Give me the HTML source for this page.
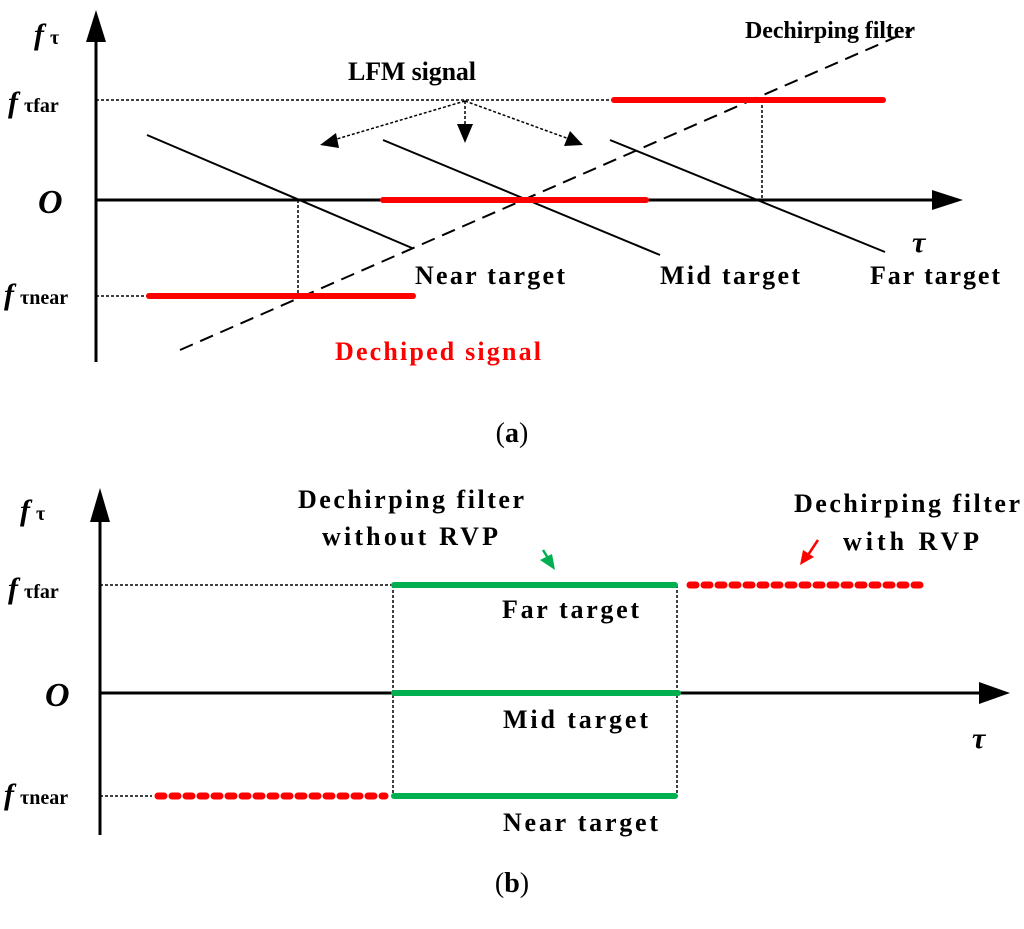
<!DOCTYPE html>
<html><head><meta charset="utf-8"><style>body{margin:0;background:#fff}svg{display:block}</style></head><body>
<svg width="1024" height="929" viewBox="0 0 1024 929" xmlns="http://www.w3.org/2000/svg" font-family="Liberation Serif, serif" font-weight="bold">
<defs>
<marker id="ah" markerWidth="10" markerHeight="10" refX="9" refY="5" orient="auto" markerUnits="userSpaceOnUse"><path d="M0,0 L14,5 L0,10 L3,5Z" fill="#000"/></marker>
</defs>
<!-- (a) -->
<line x1="96" y1="362" x2="96" y2="35" stroke="#000" stroke-width="3"/>
<polygon points="96,10 86,42 106,42" fill="#000"/>
<line x1="96" y1="200" x2="938" y2="200" stroke="#000" stroke-width="3"/>
<polygon points="963,200 932,190 932,210" fill="#000"/>
<text x="34" y="44" font-size="30" font-style="italic">f</text><text x="50" y="44" font-size="20">τ</text>
<text x="8" y="112" font-size="30" font-style="italic">f</text><text x="24" y="112" font-size="20">τfar</text>
<text x="38" y="213" font-size="34" font-style="italic">O</text>
<text x="4" y="304" font-size="30" font-style="italic">f</text><text x="20" y="304" font-size="20">τnear</text>
<text x="912" y="252" font-size="30" font-style="italic">τ</text>
<line x1="96" y1="100" x2="612" y2="100" stroke="#000" stroke-width="1.5" stroke-dasharray="3,2"/>
<line x1="96" y1="296" x2="148" y2="296" stroke="#000" stroke-width="1.5" stroke-dasharray="3,2"/>
<line x1="298" y1="200" x2="298" y2="296" stroke="#000" stroke-width="1.5" stroke-dasharray="3,2"/>
<line x1="762" y1="100" x2="762" y2="200" stroke="#000" stroke-width="1.5" stroke-dasharray="3,2"/>
<line x1="180" y1="350" x2="912" y2="30" stroke="#000" stroke-width="2" stroke-dasharray="14,8"/>
<line x1="147" y1="135" x2="412" y2="248" stroke="#000" stroke-width="2"/>
<line x1="383" y1="140" x2="660" y2="255" stroke="#000" stroke-width="2"/>
<line x1="610" y1="140" x2="885" y2="252" stroke="#000" stroke-width="2"/>
<g stroke="#ff0000" stroke-width="6" stroke-linecap="round">
<line x1="614" y1="100" x2="883" y2="100"/>
<line x1="383" y1="200" x2="646" y2="200"/>
<line x1="149" y1="296" x2="413" y2="296"/>
</g>
<g stroke="#000" stroke-width="1.5" stroke-dasharray="3,2" fill="none">
<line x1="465" y1="101" x2="330" y2="141"/>
<line x1="465" y1="101" x2="465" y2="128"/>
<line x1="465" y1="101" x2="572" y2="140"/>
</g>
<polygon points="320,145 336,133 339,148" fill="#000"/>
<polygon points="465,143 457,124 473,124" fill="#000"/>
<polygon points="583,145 564,146 570,131" fill="#000"/>
<text x="348" y="80" font-size="26" textLength="128">LFM signal</text>
<text x="745" y="38" font-size="24" textLength="170">Dechirping filter</text>
<text x="415" y="284" font-size="26" textLength="150">Near target</text>
<text x="660" y="284" font-size="26" textLength="140">Mid target</text>
<text x="870" y="284" font-size="26" textLength="130">Far target</text>
<text x="335" y="360" font-size="26" fill="#ff0000" textLength="206">Dechiped signal</text>
<text x="512" y="442" font-size="28" font-weight="normal" text-anchor="middle">(<tspan font-weight="bold">a</tspan>)</text>
<!-- (b) -->
<line x1="100" y1="835" x2="100" y2="515" stroke="#000" stroke-width="3"/>
<polygon points="100,488 90,522 110,522" fill="#000"/>
<line x1="100" y1="693" x2="985" y2="693" stroke="#000" stroke-width="3"/>
<polygon points="1010,693 979,682 979,704" fill="#000"/>
<text x="20" y="520" font-size="30" font-style="italic">f</text><text x="36" y="520" font-size="20">τ</text>
<text x="8" y="598" font-size="30" font-style="italic">f</text><text x="24" y="598" font-size="20">τfar</text>
<text x="45" y="706" font-size="34" font-style="italic">O</text>
<text x="4" y="804" font-size="30" font-style="italic">f</text><text x="20" y="804" font-size="20">τnear</text>
<text x="972" y="748" font-size="30" font-style="italic">τ</text>
<g stroke="#000" stroke-width="1.5" stroke-dasharray="3,2">
<line x1="100" y1="585" x2="392" y2="585"/>
<line x1="100" y1="796" x2="152" y2="796"/>
<line x1="393" y1="585" x2="393" y2="796"/>
<line x1="677" y1="585" x2="677" y2="796"/>
</g>
<g stroke="#00b050" stroke-width="6" stroke-linecap="round">
<line x1="394" y1="585" x2="675" y2="585"/>
<line x1="394" y1="693" x2="678" y2="693"/>
<line x1="394" y1="796" x2="675" y2="796"/>
</g>
<g stroke="#ff0000" stroke-width="7" stroke-linecap="round" stroke-dasharray="6,8">
<line x1="690" y1="585" x2="928" y2="585"/>
<line x1="158" y1="796" x2="385" y2="796"/>
</g>
<path d="M543,550 L551,563" stroke="#00b050" stroke-width="2.5"/>
<polygon points="555,570 540,560 552,554" fill="#00b050"/>
<path d="M818,540 L808,555" stroke="#ff0000" stroke-width="2.5"/>
<polygon points="800,565 803,550 814,557" fill="#ff0000"/>
<text x="298" y="508" font-size="26" textLength="226">Dechirping filter</text>
<text x="322" y="545" font-size="26" textLength="176">without RVP</text>
<text x="794" y="512" font-size="26" textLength="226">Dechirping filter</text>
<text x="843" y="550" font-size="26" textLength="136">with RVP</text>
<text x="502" y="618" font-size="26" textLength="137">Far target</text>
<text x="503" y="728" font-size="26" textLength="145">Mid target</text>
<text x="503" y="831" font-size="26" textLength="155">Near target</text>
<text x="512" y="892" font-size="28" font-weight="normal" text-anchor="middle">(<tspan font-weight="bold">b</tspan>)</text>
</svg>
</body></html>
